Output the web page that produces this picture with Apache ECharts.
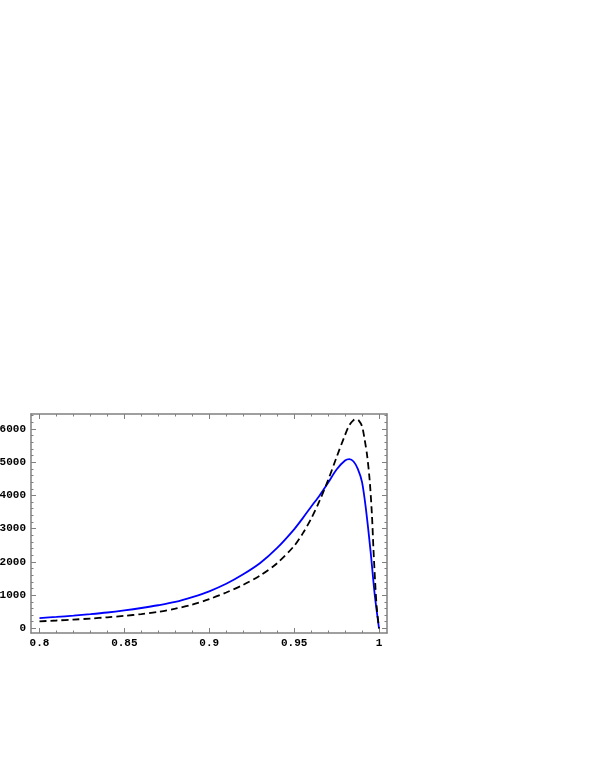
<!DOCTYPE HTML>
<html>
<head>
<meta charset="utf-8">
<title>chart</title>
<style type="text/css">
html,body{margin:0;padding:0;background:#fff;}
#myChart{width:599px;height:776px;}
</style>
</head>
<body>
<div id="myChart"></div>
<script type="text/javascript" src="https://cdn.jsdelivr.net/npm/echarts@6/dist/echarts.min.js"></script>
<script type="text/javascript">
// blue solid curve
var blueX = [0.80,0.81,0.82,0.83,0.84,0.85,0.86,0.87,0.88,0.89,0.90,0.91,0.92,0.93,0.94,0.95,0.955,0.96,0.965,0.97,0.975,0.98,0.9825,0.985,0.9875,0.99,0.9925,0.995,0.9975,1.0];
var blueY = [310,344,382,426,477,540,612,695,795,940,1115,1340,1625,1965,2420,2980,3310,3660,4000,4380,4780,5050,5090,5020,4800,4400,3500,2330,1000,0];
// black dashed curve
var blackX = [0.80,0.81,0.82,0.83,0.84,0.85,0.86,0.87,0.88,0.89,0.90,0.91,0.92,0.93,0.94,0.95,0.955,0.96,0.965,0.97,0.975,0.98,0.9825,0.985,0.9865,0.988,0.99,0.9915,0.993,0.9945,0.9958,0.9967,0.9977,0.9987,1.0];
var blackY = [210,236,264,295,332,376,430,497,590,715,880,1080,1310,1590,1960,2480,2850,3300,3840,4460,5150,5820,6110,6265,6295,6260,6080,5690,5200,4450,3440,2408,1403,602,0];

// tick labels / positions
var xMajor = [0.8,0.85,0.9,0.95,1];
var xMinor = [0.81,0.82,0.83,0.84,0.86,0.87,0.88,0.89,0.91,0.92,0.93,0.94,0.96,0.97,0.98,0.99];
var yMajor = [0,1000,2000,3000,4000,5000,6000];
var yMinor = [200,400,600,800,1200,1400,1600,1800,2200,2400,2600,2800,3200,3400,3600,3800,4200,4400,4600,4800,5200,5400,5600,5800,6200,6400];

var xMin = 0.795, xMax = 1.0047, yMin = -140, yMax = 6450;
var frameColor = '#808080';
var labelFont = {fontFamily: 'Liberation Mono', fontWeight: 'bold', fontSize: 11, color: '#000'};

function pairs(xs, ys) {
    return xs.map(function (x, i) { return [x, ys[i]]; });
}

function xAx(pos, ticks, len, labels, line) {
    return {
        type: 'value', position: pos, min: xMin, max: xMax,
        axisLine: {show: line, onZero: false, lineStyle: {color: frameColor, width: 1.5}},
        axisTick: {show: true, inside: true, length: len, customValues: ticks, lineStyle: {color: frameColor}},
        axisLabel: labels ? Object.assign({show: true, margin: 5, customValues: ticks,
            formatter: function (v) { return String(v); }}, labelFont) : {show: false},
        splitLine: {show: false}
    };
}
function yAx(pos, ticks, len, labels, line) {
    return {
        type: 'value', position: pos, min: yMin, max: yMax,
        axisLine: {show: line, onZero: false, lineStyle: {color: frameColor, width: 1.5}},
        axisTick: {show: true, inside: true, length: len, customValues: ticks, lineStyle: {color: frameColor}},
        axisLabel: labels ? Object.assign({show: true, margin: 5, customValues: ticks,
            formatter: function (v) { return String(v); }}, labelFont) : {show: false},
        splitLine: {show: false}
    };
}

var option = {
    backgroundColor: '#fff',
    animation: false,
    grid: {left: 31, right: 212, top: 414, bottom: 143, containLabel: false, outerBoundsMode: 'none'},
    xAxis: [
        xAx('bottom', xMajor, 5, true, true),
        xAx('bottom', xMinor, 2.5, false, false),
        xAx('top', xMajor, 5, false, true),
        xAx('top', xMinor, 2.5, false, false)
    ],
    yAxis: [
        yAx('left', yMajor, 5, true, true),
        yAx('left', yMinor, 2.5, false, false),
        yAx('right', yMajor, 5, false, true),
        yAx('right', yMinor, 2.5, false, false)
    ],
    series: [
        {
            name: 'blue', type: 'line', xAxisIndex: 0, yAxisIndex: 0,
            showSymbol: false, smooth: 0.3,
            lineStyle: {color: '#0000ff', width: 1.8},
            data: pairs(blueX, blueY)
        },
        {
            name: 'black', type: 'line', xAxisIndex: 0, yAxisIndex: 0,
            showSymbol: false, smooth: 0.3,
            lineStyle: {color: '#000', width: 1.8, type: [7, 4]},
            data: pairs(blackX, blackY)
        }
    ]
};

var myChart = echarts.init(document.getElementById('myChart'));
myChart.setOption(option);
</script>
</body>
</html>
